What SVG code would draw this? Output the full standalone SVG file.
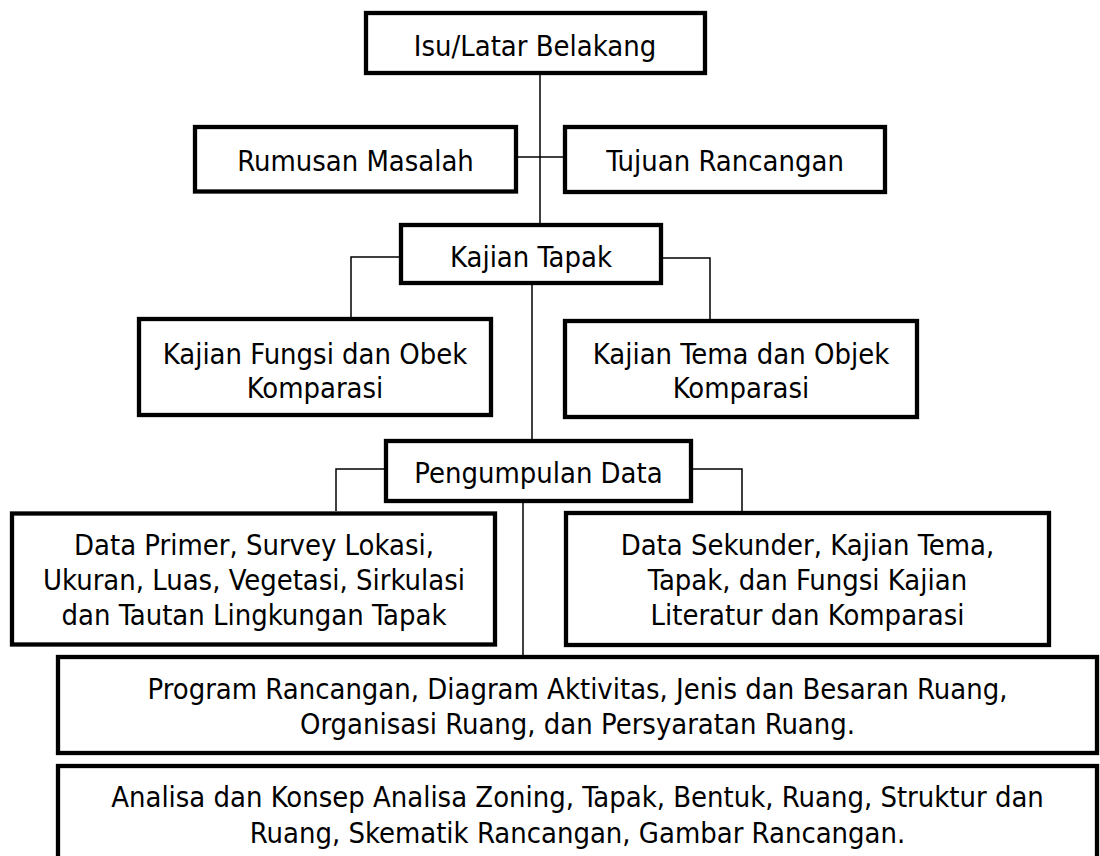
<svg xmlns="http://www.w3.org/2000/svg" width="1100" height="856" viewBox="0 0 1100 856">
<style>
.box{fill:#fff;stroke:#000;stroke-width:4.3}
.t{font-family:"DejaVu Sans Condensed","DejaVu Sans",sans-serif;font-size:28.9px;fill:#000;text-anchor:middle}
.c{fill:none;stroke:#000;stroke-width:1.5}
</style>
<rect width="1100" height="856" fill="#fff"/>
<g id="connectors">
<path class="c" d="M540 75 V223"/>
<path class="c" d="M518 157 H563"/>
<path class="c" d="M399 257 H351 V317"/>
<path class="c" d="M663 258 H710 V319"/>
<path class="c" d="M532 285 V439"/>
<path class="c" d="M384 469 H336 V511"/>
<path class="c" d="M693 469 H742 V511"/>
<path class="c" d="M523 503 V655"/>
</g>
<g id="isu"><rect class="box" x="366" y="13" width="339" height="60"/><text class="t" x="535" y="55.5">Isu/Latar Belakang</text></g>
<g id="rumusan"><rect class="box" x="195" y="127" width="321" height="64.5"/><text class="t" x="355.5" y="171">Rumusan Masalah</text></g>
<g id="tujuan"><rect class="box" x="565" y="127" width="320" height="65"/><text class="t" x="725" y="171">Tujuan Rancangan</text></g>
<g id="kajian-tapak"><rect class="box" x="401" y="225" width="260" height="58"/><text class="t" x="531" y="266.5">Kajian Tapak</text></g>
<g id="kajian-fungsi"><rect class="box" x="139" y="319" width="352" height="96"/><text class="t" x="315" y="364">Kajian Fungsi dan Obek</text><text class="t" x="315" y="397.5">Komparasi</text></g>
<g id="kajian-tema"><rect class="box" x="565" y="321" width="352" height="96"/><text class="t" x="741" y="364">Kajian Tema dan Objek</text><text class="t" x="741" y="398">Komparasi</text></g>
<g id="pengumpulan"><rect class="box" x="386" y="441" width="305" height="60"/><text class="t" x="538.5" y="482.5">Pengumpulan Data</text></g>
<g id="data-primer"><rect class="box" x="12" y="513.5" width="483" height="131"/><text class="t" x="254" y="555">Data Primer, Survey Lokasi,</text><text class="t" x="254" y="590">Ukuran, Luas, Vegetasi, Sirkulasi</text><text class="t" x="254" y="625">dan Tautan Lingkungan Tapak</text></g>
<g id="data-sekunder"><rect class="box" x="566" y="513" width="483" height="132"/><text class="t" x="807.5" y="555">Data Sekunder, Kajian Tema,</text><text class="t" x="807.5" y="590">Tapak, dan Fungsi Kajian</text><text class="t" x="807.5" y="625">Literatur dan Komparasi</text></g>
<g id="program"><rect class="box" x="58" y="657" width="1039" height="96"/><text class="t" x="577.5" y="699">Program Rancangan, Diagram Aktivitas, Jenis dan Besaran Ruang,</text><text class="t" x="577.5" y="733.5">Organisasi Ruang, dan Persyaratan Ruang.</text></g>
<g id="analisa"><rect class="box" x="58" y="766" width="1039" height="120"/><text class="t" x="577.5" y="807">Analisa dan Konsep Analisa Zoning, Tapak, Bentuk, Ruang, Struktur dan</text><text class="t" x="577.5" y="843">Ruang, Skematik Rancangan, Gambar Rancangan.</text></g>
</svg>
